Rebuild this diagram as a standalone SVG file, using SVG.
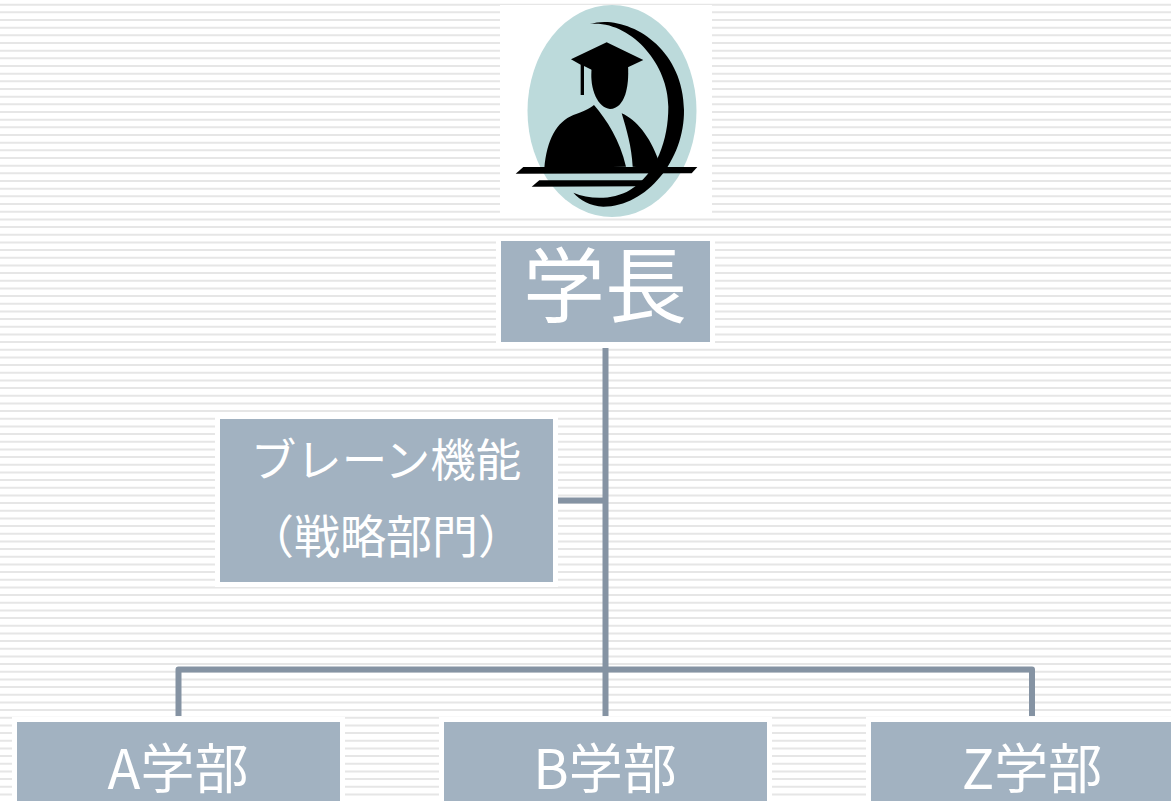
<svg xmlns="http://www.w3.org/2000/svg" width="1171" height="801" viewBox="0 0 1171 801">
<style>
.stripes{fill:none;stroke:#e6e6e6;stroke-width:1171;stroke-dasharray:2 5.667}
.box{fill:#a2b2c1;stroke:#fff;stroke-width:10;paint-order:stroke}
.t{fill:#fff;font-family:"Noto Sans CJK JP","Noto Sans",sans-serif;text-anchor:middle}
.c{fill:none;stroke:#8593a3;stroke-width:6;stroke-linejoin:round}
.k{fill:#000}
</style>
<rect width="1171" height="801" fill="#fff"/>
<path class="stripes" d="M585.500 3.700V801"/>
<g id="emblem">
<rect x="500" y="5" width="212" height="211" fill="#fff"/>
<ellipse cx="612" cy="111" rx="84.500" ry="106" fill="#bcdadb"/>
<g class="k" transform="translate(490 0) scale(.33333)">
<path d="M300 72C400 40 580 130 582 330C584 480 470 620 340 620C300 618 270 600 250 578C300 600 370 600 420 570C500 520 535 420 535 320C535 190 420 60 300 72Z"/>
<path d="M243 178L350 127L460 180L350 232L282 198L282 285L272 285L272 194Z"/>
<path d="M305 205L414 195C418 260 405 325 360 327C325 325 298 270 305 205Z"/>
<path d="M163 505C170 420 200 365 250 345C280 335 300 325 312 315C350 360 390 420 408 500Z"/>
<path d="M395 340C440 360 480 410 505 480L490 505L428 500C425 440 410 390 395 340Z"/>
<path d="M77 521L100 501L622 501L605 520Z"/>
<path d="M125 560L148 541L470 541L460 559Z"/>
</g>
</g>
<g id="connectors">
<path class="c" d="M605.500 348V716M558 500.500H605M178.500 716V669.500H1032V716"/>
</g>
<g id="president"><rect class="box" x="501" y="241" width="209" height="101"/><text class="t" x="605" y="316" font-size="82">学長</text></g>
<g id="brain"><rect class="box" x="220" y="419" width="333" height="163"/>
<text class="t" x="386" y="477" font-size="45.500">ブレーン機能</text>
<text class="t" x="386" y="553" font-size="46">（戦略部門）</text></g>
<g id="dept-a"><rect class="box" x="17" y="722" width="323" height="90"/><text class="t" x="178" y="789" font-size="54">A学部</text></g>
<g id="dept-b"><rect class="box" x="444" y="722" width="323" height="90"/><text class="t" x="605" y="789" font-size="54">B学部</text></g>
<g id="dept-z"><rect class="box" x="871" y="722" width="323" height="90"/><text class="t" x="1032" y="789" font-size="54">Z学部</text></g>
</svg>
